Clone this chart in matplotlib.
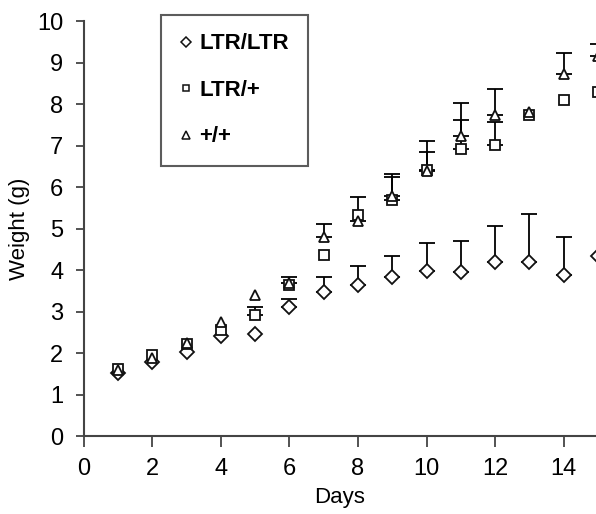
import matplotlib.pyplot as plt
import numpy as np

# body weight of pups by genotype, mean with upper SD
days = np.arange(1, 16)

ltr_ltr = [1.52, 1.78, 2.03, 2.42, 2.46, 3.11, 3.48, 3.64, 3.83, 3.98, 3.96, 4.19, 4.19, 3.88, 4.33]
ltr_ltr_sd = [0.0, 0.0, 0.0, 0.0, 0.0, 0.20, 0.35, 0.47, 0.50, 0.67, 0.75, 0.88, 1.17, 0.93, 0.0]

ltr_het = [1.61, 1.95, 2.22, 2.55, 2.91, 3.63, 4.37, 5.32, 5.70, 6.41, 6.93, 7.02, 7.74, 8.11, 8.29]
ltr_het_sd = [0.0, 0.0, 0.0, 0.0, 0.19, 0.0, 0.0, 0.0, 0.54, 0.44, 0.68, 0.54, 0.0, 0.0, 0.0]

wt = [1.59, 1.88, 2.25, 2.76, 3.40, 3.69, 4.79, 5.18, 5.78, 6.39, 7.24, 7.73, 7.80, 8.73, 9.15]
wt_sd = [0.0, 0.0, 0.0, 0.0, 0.0, 0.14, 0.32, 0.58, 0.54, 0.72, 0.80, 0.64, 0.0, 0.50, 0.30]

labels = ['LTR/LTR', 'LTR/+', '+/+']
markers = ['D', 's', '^']
sizes = [7.0, 6.5, 7.5]

fig = plt.figure(figsize=(5.96, 5.14), dpi=100)
ax = fig.add_axes([0.1403, 0.1517, 0.8597, 0.807])

series = [ltr_ltr, ltr_het, wt]
sds = [ltr_ltr_sd, ltr_het_sd, wt_sd]
handles = []
for y, sd, m, ms, lab in zip(series, sds, markers, sizes, labels):
    y = np.array(y)
    sd = np.array(sd)
    has = sd > 0
    ax.errorbar(days[has], y[has], yerr=[np.zeros(has.sum()), sd[has]], fmt='none',
                ecolor='black', elinewidth=1.3, capsize=6, capthick=1.3,
                clip_on=False, zorder=2)
    ax.plot(days, y, linestyle='none', marker=m, ms=ms, mfc='white',
            mec='#111111', mew=1.3, clip_on=False, zorder=3)
    h, = ax.plot([], [], linestyle='none', marker=m, ms=ms * 0.75, mfc='white',
                 mec='#111111', mew=1.1, label=lab)
    handles.append(h)

ax.set_xlim(0, 14.94)
ax.set_ylim(0, 10)
ax.set_xticks(range(0, 15, 2))
ax.set_yticks(range(0, 11))

for s in ['top', 'right']:
    ax.spines[s].set_visible(False)
for s in ['left', 'bottom']:
    ax.spines[s].set_color('#444444')
    ax.spines[s].set_linewidth(1.5)

ax.tick_params(axis='both', colors='#444444', width=1.3, labelcolor='black')
ax.tick_params(axis='y', length=6, pad=8.5)
ax.tick_params(axis='x', length=8, pad=8)
for t in ax.get_xticklabels() + ax.get_yticklabels():
    t.set_family('Liberation Sans')
    t.set_fontsize(17)

ax.set_xlabel('Days', family='Liberation Sans', fontsize=16, labelpad=5)
ax.set_ylabel('Weight (g)', family='Liberation Sans', fontsize=16, labelpad=5)

leg = fig.legend(handles=handles, loc='upper left',
                 bbox_to_anchor=(160.5 / 596, 1 - 14.5 / 514),
                 prop={'family': 'Liberation Sans', 'weight': 'bold', 'size': 16},
                 frameon=True, fancybox=False, edgecolor='#333333',
                 handlelength=0.6, handletextpad=0.3, labelspacing=1.15,
                 borderpad=0.85, borderaxespad=0)
leg.get_frame().set_linewidth(1.5)

fig.savefig('out.png', dpi=100)
